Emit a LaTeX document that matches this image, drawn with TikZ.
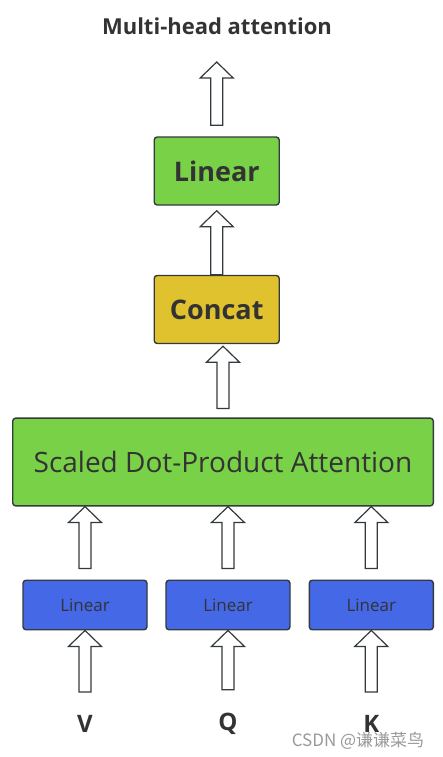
\documentclass[tikz,border=0pt]{standalone}
\usepackage{fontspec}
\setmainfont{Open Sans}
\newfontfamily\cjkfont{Noto Sans CJK SC}
\usepackage{xcolor}
\usetikzlibrary{calc}
\definecolor{MHGreen}{HTML}{78D146}
\definecolor{MHYellow}{HTML}{E0C22F}
\definecolor{MHBlue}{HTML}{4468E6}
\definecolor{MHLine}{HTML}{333A3E}
\definecolor{MHText}{HTML}{333333}

% hollow block arrow, always pointing up: #1 = base, #2 = tip
\newcommand{\fatarrow}[2]{%
  \draw[fatarr] let \p1=#1, \p2=#2 in
    (\x1-6pt,\y1) -- (\x1+6pt,\y1) -- (\x1+6pt,\y2-16pt) -- (\x1+16.5pt,\y2-16pt)
    -- (\x1,\y2) -- (\x1-16.5pt,\y2-16pt) -- (\x1-6pt,\y2-16pt) -- cycle;}

\begin{document}
\begin{tikzpicture}[
    x=1pt,y=-1pt,
    box/.style={draw=MHLine,line width=1.4pt,rounded corners=3pt,align=center,text=MHText},
    bigbox/.style={box,minimum width=125pt,minimum height=68pt,font=\fontsize{27}{32}\selectfont\bfseries},
    smallbox/.style={box,fill=MHBlue,minimum width=124pt,minimum height=49.5pt,font=\fontsize{17}{20}\selectfont},
    inlabel/.style={text=MHText,font=\fontsize{24}{28}\selectfont\bfseries},
    fatarr/.style={draw=MHLine,fill=white,line width=1.2pt,line join=miter}
  ]
    \useasboundingbox (0,0) rectangle (442,757);

    \node[text=MHText,font=\fontsize{22}{26}\selectfont\bfseries] (title) at (217,26) {Multi-head attention};
    \node[bigbox,fill=MHGreen] (linear) at (216.7,171) {Linear};
    \node[bigbox,fill=MHYellow] (concat) at (216.7,309.5) {Concat};
    \node[box,fill=MHGreen,minimum width=420.6pt,minimum height=87.7pt,font=\fontsize{28}{32}\selectfont] (sdpa) at (223,462) {Scaled Dot-Product Attention};

    \node[smallbox] (linv) at (85,605) {Linear};
    \node[smallbox] (linq) at (228,605) {Linear};
    \node[smallbox] (link) at (371.3,605) {Linear};

    \node[inlabel] (v) at (85,724) {V};
    \node[inlabel] (q) at (228,724) {Q};
    \node[inlabel] (k) at (371.3,724) {K};

    \fatarrow{($(linear.north)+(0,-11)$)}{(216.7,62)}
    \fatarrow{(concat.north)}{($(linear.south)+(0,5)$)}
    \fatarrow{($(sdpa.north)+(0,-9)$)}{($(concat.south)+(0,2)$)}
    \foreach \lbl in {v,q,k} {
      \fatarrow{($(lin\lbl.north)+(0,-11)$)}{(lin\lbl.north |- sdpa.south)}
      \fatarrow{($(\lbl.north)+(0,-20)$)}{(lin\lbl.south)}
    }

    % watermark
    \node[text=black!40,font=\cjkfont\fontsize{17}{20}\selectfont] (mark) at (358,741) {CSDN @谦谦菜鸟};
  \end{tikzpicture}
\end{document}
